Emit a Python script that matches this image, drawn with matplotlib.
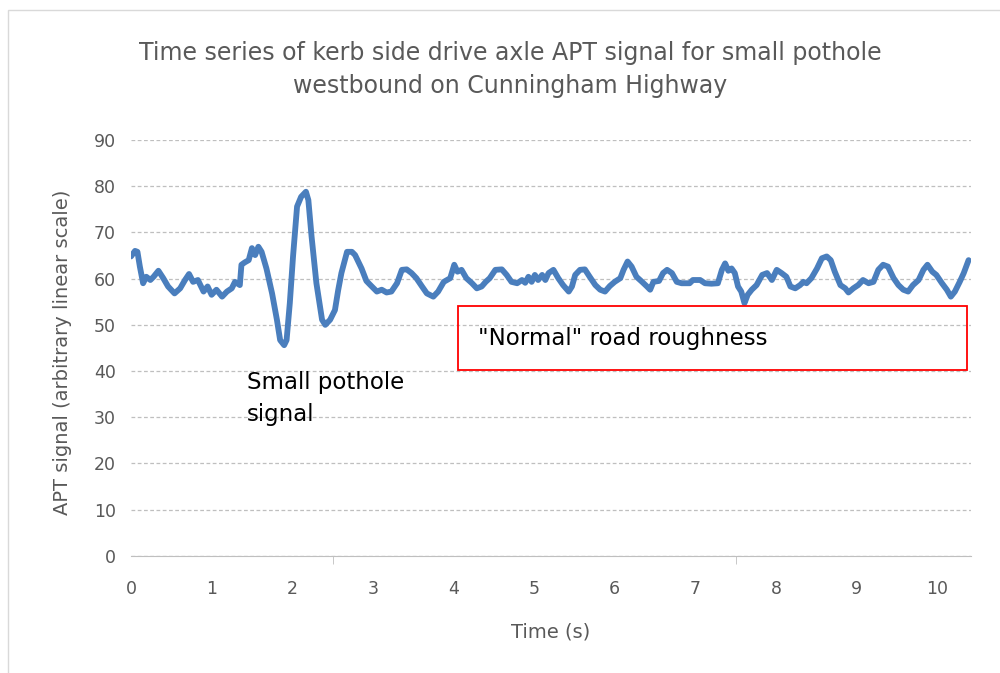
import numpy as np
import matplotlib
matplotlib.use('Agg')
import matplotlib.pyplot as plt
from matplotlib.patches import Rectangle

plt.rcParams['font.family'] = ['DejaVu Sans']

# signal: time (s) and APT value
t = [0.00, 0.05, 0.08, 0.11, 0.15, 0.19, 0.24, 0.28, 0.34, 0.40,
     0.46, 0.54, 0.61, 0.67, 0.72, 0.77, 0.83, 0.90, 0.95, 1.00,
     1.06, 1.13, 1.19, 1.25, 1.29, 1.35, 1.37, 1.41, 1.46, 1.50,
     1.54, 1.58, 1.62, 1.68, 1.75, 1.81, 1.85, 1.90, 1.93, 1.97,
     2.01, 2.06, 2.11, 2.17, 2.20, 2.24, 2.30, 2.37, 2.41, 2.47,
     2.53, 2.57, 2.61, 2.68, 2.74, 2.78, 2.86, 2.92, 2.97, 3.05,
     3.11, 3.17, 3.23, 3.30, 3.36, 3.42, 3.48, 3.54, 3.61, 3.67,
     3.75, 3.81, 3.88, 3.96, 4.01, 4.05, 4.10, 4.16, 4.23, 4.29,
     4.35, 4.40, 4.45, 4.52, 4.60, 4.66, 4.72, 4.79, 4.85, 4.89,
     4.93, 4.97, 5.01, 5.05, 5.10, 5.14, 5.18, 5.24, 5.30, 5.36,
     5.43, 5.47, 5.51, 5.57, 5.63, 5.69, 5.76, 5.82, 5.88, 5.94,
     6.00, 6.07, 6.11, 6.16, 6.21, 6.27, 6.34, 6.40, 6.44, 6.48,
     6.55, 6.60, 6.65, 6.71, 6.77, 6.83, 6.93, 6.97, 7.06, 7.12,
     7.20, 7.28, 7.33, 7.37, 7.41, 7.45, 7.49, 7.53, 7.57, 7.61,
     7.65, 7.70, 7.76, 7.83, 7.89, 7.95, 8.01, 8.07, 8.13, 8.18,
     8.24, 8.30, 8.34, 8.38, 8.44, 8.51, 8.57, 8.63, 8.68, 8.73,
     8.80, 8.86, 8.90, 8.96, 9.02, 9.08, 9.15, 9.21, 9.27, 9.33,
     9.39, 9.46, 9.52, 9.58, 9.64, 9.70, 9.77, 9.83, 9.88, 9.94,
     9.99, 10.06, 10.12, 10.17, 10.22, 10.28, 10.33, 10.39]
apt = [64.8, 66.0, 65.8, 62.6, 59.0, 60.4, 59.7, 60.4, 61.7, 60.1,
       58.3, 56.8, 57.9, 59.7, 61.0, 59.3, 59.7, 57.2, 58.3, 56.5,
       57.6, 56.1, 57.2, 57.9, 59.3, 58.6, 63.0, 63.5, 64.0, 66.6,
       65.1, 66.9, 65.8, 62.2, 56.8, 51.1, 46.7, 45.6, 46.7, 54.7,
       64.8, 75.6, 77.7, 78.8, 77.0, 69.1, 59.0, 51.1, 50.0, 51.1,
       53.2, 57.5, 61.2, 65.8, 65.8, 65.1, 62.2, 59.5, 58.6, 57.2,
       57.6, 57.0, 57.2, 59.0, 61.9, 62.0, 61.2, 60.1, 58.3, 56.8,
       56.1, 57.2, 59.3, 60.1, 63.0, 61.5, 61.9, 60.1, 59.0, 57.9,
       58.3, 59.3, 60.1, 61.9, 62.0, 60.8, 59.3, 59.0, 59.7, 59.1,
       60.4, 59.3, 60.8, 59.7, 60.8, 59.7, 61.2, 61.9, 60.1, 58.6,
       57.2, 58.3, 60.8, 61.9, 62.0, 60.4, 58.6, 57.6, 57.2, 58.4,
       59.3, 60.1, 61.9, 63.7, 62.6, 60.4, 59.3, 58.3, 57.6, 59.3,
       59.5, 61.2, 61.9, 61.2, 59.3, 59.0, 59.0, 59.7, 59.7, 59.0,
       58.9, 59.0, 61.9, 63.3, 61.7, 62.2, 61.2, 58.3, 57.2, 54.7,
       56.5, 57.6, 58.6, 60.8, 61.2, 59.7, 61.9, 61.2, 60.4, 58.3,
       57.9, 58.6, 59.3, 59.0, 60.1, 62.2, 64.4, 64.8, 64.0, 61.5,
       58.6, 57.9, 57.0, 57.9, 58.6, 59.7, 59.0, 59.3, 61.9, 63.0,
       62.6, 60.1, 58.6, 57.6, 57.2, 58.6, 59.7, 61.9, 63.0, 61.5,
       60.8, 59.0, 57.6, 56.1, 57.2, 59.3, 61.2, 64.0]

x_labels = [str(i) for i in range(11)]
y_ticks = list(range(0, 100, 10))

grey = '#595959'

fig = plt.figure(figsize=(10, 6.73), dpi=100)
ax = fig.add_axes([0.131, 0.174, 0.840, 0.618])

ax.plot(t, apt, color='#4A7EBD', lw=4.2, solid_joinstyle='round',
        solid_capstyle='round', zorder=3)

ax.set_xlim(0, 10.42)
ax.set_ylim(0, 90)

ax.set_yticks(y_ticks)
ax.yaxis.grid(True, color='#BFBFBF', ls=(0, (3, 2)), lw=0.9)
ax.set_axisbelow(True)

# labels every second, tick marks every 2.5 s like the original
ax.set_xticks(range(11))
ax.set_xticklabels(x_labels)
ax.set_xticks([0, 2.5, 5, 7.5, 10], minor=True)
ax.tick_params(axis='x', which='major', length=0, pad=17, labelsize=12.5, labelcolor=grey)
ax.tick_params(axis='x', which='minor', length=6, color='#BFBFBF', direction='out')
ax.tick_params(axis='y', length=0, pad=11, labelsize=12.5, labelcolor=grey)

for s in ['top', 'right', 'left']:
    ax.spines[s].set_visible(False)
ax.spines['bottom'].set_color('#BFBFBF')

ax.set_xlabel('Time (s)', fontsize=14, color=grey)
ax.set_ylabel('APT signal (arbitrary linear scale)', fontsize=14, color=grey)
ax.xaxis.set_label_coords(0.5, -0.16)
ax.yaxis.set_label_coords(-0.07, 0.49)

fig.text(0.510, 0.897, 'Time series of kerb side drive axle APT signal for small pothole\n'
         'westbound on Cunningham Highway', ha='center', va='center',
         fontsize=17, color=grey, linespacing=1.45)

# annotations
ax.text(1.44, 34.0, 'Small pothole\nsignal', fontsize=16.5, color='black',
        va='center', ha='left', linespacing=1.5)
ax.add_patch(Rectangle((0.458, 0.4505), 0.509, 0.095, transform=fig.transFigure,
                       fill=False, ec='#FF0000', lw=1.3, zorder=4))
fig.text(0.478, 0.497, '"Normal" road roughness', fontsize=16.5, color='black', va='center')

# chart border
fig.add_artist(Rectangle((0.008, -0.05), 1.1, 1.035, transform=fig.transFigure,
                         fill=False, ec='#D9D9D9', lw=1))

fig.savefig('out.png', dpi=100)
